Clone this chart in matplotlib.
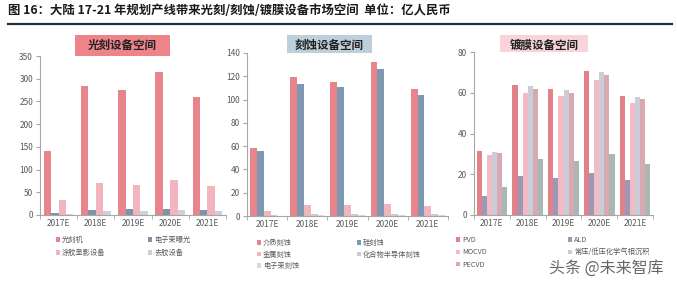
import matplotlib
matplotlib.use("Agg")
import matplotlib.pyplot as plt
import numpy as np
from matplotlib.lines import Line2D
from matplotlib.patches import Rectangle, Patch

plt.rcParams['font.family'] = ['Noto Sans CJK SC', 'DejaVu Sans']

W, H = 677, 281

years = ["2017E", "2018E", "2019E", "2020E", "2021E"]

# Panel 1: 光刻设备空间
litho_labels = ["光刻机", "电子束曝光", "涂胶显影设备", "去胶设备"]
litho_machine = [140, 284, 275, 314, 260]
ebeam_exposure = [5, 12, 13, 14, 12]
coater_developer = [34, 70, 67, 77, 64]
stripper = [3, 9, 9, 10, 8]

# Panel 2: 刻蚀设备空间
etch_labels = ["介质刻蚀", "硅刻蚀", "金属刻蚀", "化合物半导体刻蚀", "电子束刻蚀"]
dielectric_etch = [58.5, 119, 115, 132, 109]
silicon_etch = [56, 113.5, 110.5, 126, 104]
metal_etch = [4.5, 9.5, 9.5, 10.5, 8.5]
compound_etch = [0.8, 1.8, 1.8, 2.0, 1.6]
ebeam_etch = [0.4, 1.0, 1.0, 1.1, 0.9]

# Panel 3: 镀膜设备空间
dep_labels = ["PVD", "ALD", "MOCVD", "常压/低压化学气相沉积", "PECVD", "外延设备"]
pvd = [31.5, 64, 62, 70.5, 58.5]
ald = [9.5, 19, 18, 20.5, 17]
mocvd = [29.5, 60, 58.5, 66.5, 55]
apcvd_lpcvd = [31, 63.5, 61.5, 70, 58]
pecvd = [30.5, 62, 60, 68.5, 57]
epi = [13.5, 27.5, 26.5, 30, 25]

fig = plt.figure(figsize=(W / 100, H / 100), dpi=100)

# Header
fig.text(8 / W, 1 - 11 / H, "图 16：大陆 17-21 年规划产线带来光刻/刻蚀/镀膜设备市场空间  单位：亿人民币",
         fontsize=8.9, fontweight='bold', color='#1a1a1a', va='center', ha='left')
fig.add_artist(Line2D([8 / W, 672 / W], [1 - 24 / H, 1 - 24 / H], color='#1F2D3D', lw=1.6))

TICK_COLOR = '#595959'
AX_COLOR = '#A6A6A6'


def make_panel(rect_px, series, colors, ymax, ystep, title, title_box, title_color, group_w):
    l, t, r, b = rect_px
    ax = fig.add_axes([l / W, 1 - b / H, (r - l) / W, (b - t) / H])
    n = len(series)
    x = np.arange(len(years))
    bw = group_w / n
    for i, (vals, c) in enumerate(zip(series, colors)):
        ax.bar(x - group_w / 2 + bw * (i + 0.5), vals, width=bw, color=c, linewidth=0)
    ax.set_xlim(-0.5, len(years) - 0.5)
    ax.set_ylim(0, ymax)
    ax.set_yticks(np.arange(0, ymax + 0.1, ystep))
    ax.set_xticks(x)
    ax.set_xticklabels(years)
    ax.set_xticks(np.arange(-0.5, len(years)), minor=True)
    ax.tick_params(axis='x', which='major', length=0, pad=3, labelsize=6, labelcolor=TICK_COLOR)
    ax.tick_params(axis='x', which='minor', length=3, direction='out', color=AX_COLOR)
    ax.tick_params(axis='y', length=3, direction='out', color=AX_COLOR, labelsize=6,
                   labelcolor=TICK_COLOR, pad=2)
    for s in ['top', 'right']:
        ax.spines[s].set_visible(False)
    for s in ['left', 'bottom']:
        ax.spines[s].set_color(AX_COLOR)
        ax.spines[s].set_linewidth(0.8)
    bl, bt, br, bb = title_box
    fig.add_artist(Rectangle((bl / W, 1 - bb / H), (br - bl) / W, (bb - bt) / H,
                             transform=fig.transFigure, facecolor=title_color, edgecolor='none', zorder=0))
    fig.text((bl + br) / 2 / W, 1 - (bt + bb) / 2 / H, title, fontsize=8.3, fontweight='bold',
             color='#222222', ha='center', va='center')
    return ax


def add_legend(idx, labels, colors, x_px, y_px, spacing):
    handles = [Patch(facecolor=colors[i], edgecolor='none', label=labels[i]) for i in idx]
    leg = fig.legend(handles=handles, loc='upper left', bbox_to_anchor=(x_px / W, 1 - y_px / H),
                     frameon=False, fontsize=5.2, handlelength=0.55, handleheight=0.55,
                     handletextpad=0.3, labelspacing=spacing, borderpad=0, borderaxespad=0,
                     labelcolor=TICK_COLOR)
    return leg


# Panel 1
c1 = ['#E8848B', '#7E93AD', '#F2B5BD', '#CDD1D8']
make_panel((40, 56, 226, 215),
           [litho_machine, ebeam_exposure, coater_developer, stripper], c1,
           350, 50, "光刻设备空间", (75, 35, 170, 56), '#EE838A', 0.8)
add_legend([0, 2], litho_labels, c1, 56, 236, 0.7)
add_legend([1, 3], litho_labels, c1, 148, 236, 0.7)

# Panel 2
c2 = ['#E8848B', '#7E98B1', '#F2B5BD', '#C9CDD3', '#DADADA']
make_panel((247, 53, 448, 216),
           [dielectric_etch, silicon_etch, metal_etch, compound_etch, ebeam_etch], c2,
           140, 20, "刻蚀设备空间", (287, 35, 372, 56), '#BCCFDA', 0.85)
add_legend([0, 2, 4], etch_labels, c2, 257, 239, 0.5)
add_legend([1, 3], etch_labels, c2, 357, 239, 0.5)

# Panel 3 (sixth legend entry is hidden under the watermark in the reference)
c3 = ['#E3818A', '#9C98BA', '#F2BAC2', '#CACCD8', '#D9A9B2', '#A9B8B4']
make_panel((474, 52, 653, 215),
           [pvd, ald, mocvd, apcvd_lpcvd, pecvd, epi], c3,
           80, 20, "镀膜设备空间", (500, 35, 588, 56), '#F8D3D8', 0.85)
add_legend([0, 2, 4], dep_labels, c3, 456, 236, 0.6)
add_legend([1, 3], dep_labels, c3, 568, 236, 0.6)

# Watermark
fig.text(606 / W, 1 - 268 / H, "头条 @未来智库", fontsize=11.5, color='#4d4d4d', alpha=0.85,
         ha='center', va='center')

fig.savefig("out.png", dpi=100)
